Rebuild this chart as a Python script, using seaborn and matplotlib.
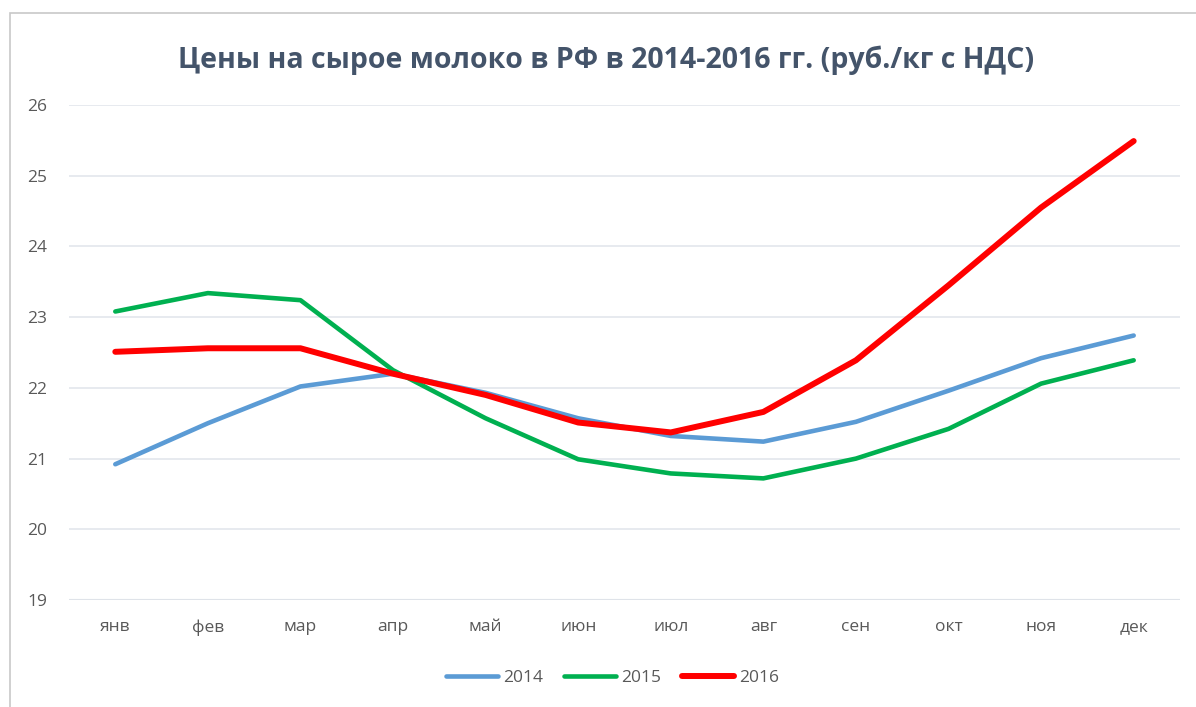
import seaborn as sns
import matplotlib.pyplot as plt
import pandas as pd
from matplotlib.patches import Rectangle

months = ['янв', 'фев', 'мар', 'апр', 'май', 'июн', 'июл', 'авг', 'сен', 'окт', 'ноя', 'дек']
years = ['2014', '2015', '2016']
prices_2014 = [20.92, 21.50, 22.02, 22.20, 21.93, 21.57, 21.32, 21.24, 21.52, 21.96, 22.42, 22.74]
prices_2015 = [23.08, 23.34, 23.24, 22.25, 21.57, 20.99, 20.79, 20.72, 21.00, 21.42, 22.06, 22.39]
prices_2016 = [22.51, 22.56, 22.56, 22.20, 21.90, 21.51, 21.37, 21.66, 22.39, 23.45, 24.55, 25.49]
y_ticks = [19, 20, 21, 22, 23, 24, 25, 26]

colors = {'2014': '#5B9BD5', '2015': '#00B050', '2016': '#FF0000'}
widths = {'2014': 3.3, '2015': 3.3, '2016': 4.3}

df = pd.DataFrame({
    'month': months * 3,
    'pos': list(range(12)) * 3,
    'year': [y for y in years for _ in months],
    'price': prices_2014 + prices_2015 + prices_2016,
})

sns.set_style('white')
plt.rcParams['font.family'] = ['Open Sans', 'DejaVu Sans']

fig = plt.figure(figsize=(11.96, 7.07), dpi=100)
ax = fig.add_axes([0.0577, 0.1513, 0.9289, 0.7002])

for yr in years:
    sns.lineplot(data=df[df['year'] == yr], x='pos', y='price', ax=ax,
                 color=colors[yr], linewidth=widths[yr], label=yr,
                 solid_capstyle='round', solid_joinstyle='round')

ax.set_xlim(-0.5, 11.5)
ax.set_ylim(19, 26)
ax.set_yticks(y_ticks)
ax.set_xticks(range(12))
ax.set_xticklabels(months)
ax.set_xlabel('')
ax.set_ylabel('')
ax.tick_params(axis='both', length=0, labelsize=12.5, colors='#595959')
ax.tick_params(axis='y', pad=30)
for lbl in ax.get_yticklabels():
    lbl.set_horizontalalignment('left')
ax.tick_params(axis='x', pad=14)
ax.grid(axis='y', color='#E3E6EC', linewidth=1.2)
ax.set_axisbelow(True)
for s in ax.spines.values():
    s.set_visible(False)
ax.axhline(19, color='#D0D6DE', linewidth=1.5, zorder=0)

fig.text(0.507, 0.915, 'Цены на сырое молоко в РФ в 2014-2016 гг. (руб./кг с НДС)',
         ha='center', va='center', fontsize=20.5, fontweight='bold', color='#44546A')

ax.legend(loc='center', bbox_to_anchor=(0.512, 0.041), bbox_transform=fig.transFigure,
          ncol=3, frameon=False, fontsize=12.5, handlelength=3.0, columnspacing=1.2,
          handletextpad=0.3, labelcolor='#595959')

fig.patches.append(Rectangle((0.0085, -0.01), 1.0, 0.992, transform=fig.transFigure,
                             fill=False, edgecolor='#C8C8C8', linewidth=1.2))

fig.savefig('out.png', dpi=100)
